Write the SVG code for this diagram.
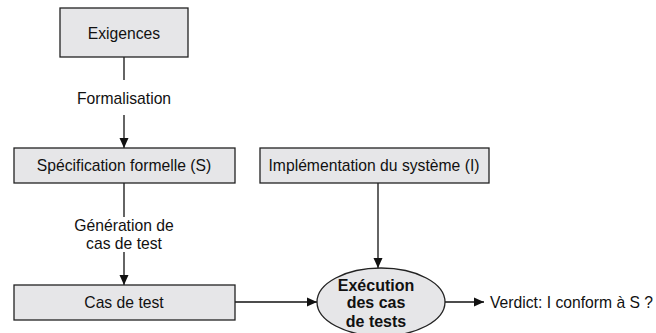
<svg xmlns="http://www.w3.org/2000/svg" width="656" height="333" viewBox="0 0 656 333">
<style>
.box{fill:#e6e6e8;stroke:#222;stroke-width:1.3}
.t{font-family:"Liberation Sans",Arial,sans-serif;font-size:15.7px;fill:#111}
.b{font-weight:bold;font-size:16px}
.c{stroke:#111;stroke-width:1.3;fill:none}
</style>
<defs>
<marker id="ah" viewBox="0 0 10 10" refX="10" refY="5" markerWidth="10" markerHeight="10" markerUnits="userSpaceOnUse" orient="auto">
<path d="M0,0.5 L10,5 L0,9.5 Z" fill="#111"/>
</marker>
</defs>
<g id="connectors">
<line class="c" x1="124" y1="57" x2="124" y2="80"/>
<line class="c" x1="124" y1="115" x2="124" y2="148" marker-end="url(#ah)"/>
<line class="c" x1="124" y1="183" x2="124" y2="217"/>
<line class="c" x1="124" y1="252" x2="124" y2="285" marker-end="url(#ah)"/>
<line class="c" x1="235" y1="302" x2="317" y2="302" marker-end="url(#ah)"/>
<line class="c" x1="378" y1="183" x2="378" y2="268" marker-end="url(#ah)"/>
<line class="c" x1="445" y1="302" x2="484" y2="302" marker-end="url(#ah)"/>
<text class="t" x="124" y="103.5" text-anchor="middle">Formalisation</text>
<text class="t" x="124" y="230.5" text-anchor="middle">Génération de</text>
<text class="t" x="124" y="248.5" text-anchor="middle">cas de test</text>
<text class="t" x="490" y="307.5">Verdict: I conform à S ?</text>
</g>
<g id="exigences">
<rect class="box" x="60" y="8" width="128" height="49"/>
<text class="t" x="124" y="38.5" text-anchor="middle">Exigences</text>
</g>
<g id="specification">
<rect class="box" x="14" y="148" width="221" height="35"/>
<text class="t" x="124" y="171" text-anchor="middle">Spécification formelle (S)</text>
</g>
<g id="implementation">
<rect class="box" x="260" y="148" width="229" height="35"/>
<text class="t" x="374" y="171" text-anchor="middle">Implémentation du système (I)</text>
</g>
<g id="cas-de-test">
<rect class="box" x="14" y="285" width="221" height="35"/>
<text class="t" x="124" y="307.5" text-anchor="middle">Cas de test</text>
</g>
<g id="execution">
<ellipse class="box" cx="381" cy="302" rx="64" ry="34"/>
<text class="t b" x="376" y="291" text-anchor="middle">Exécution</text>
<text class="t b" x="376" y="308" text-anchor="middle">des cas</text>
<text class="t b" x="376" y="327" text-anchor="middle">de tests</text>
</g>
</svg>
